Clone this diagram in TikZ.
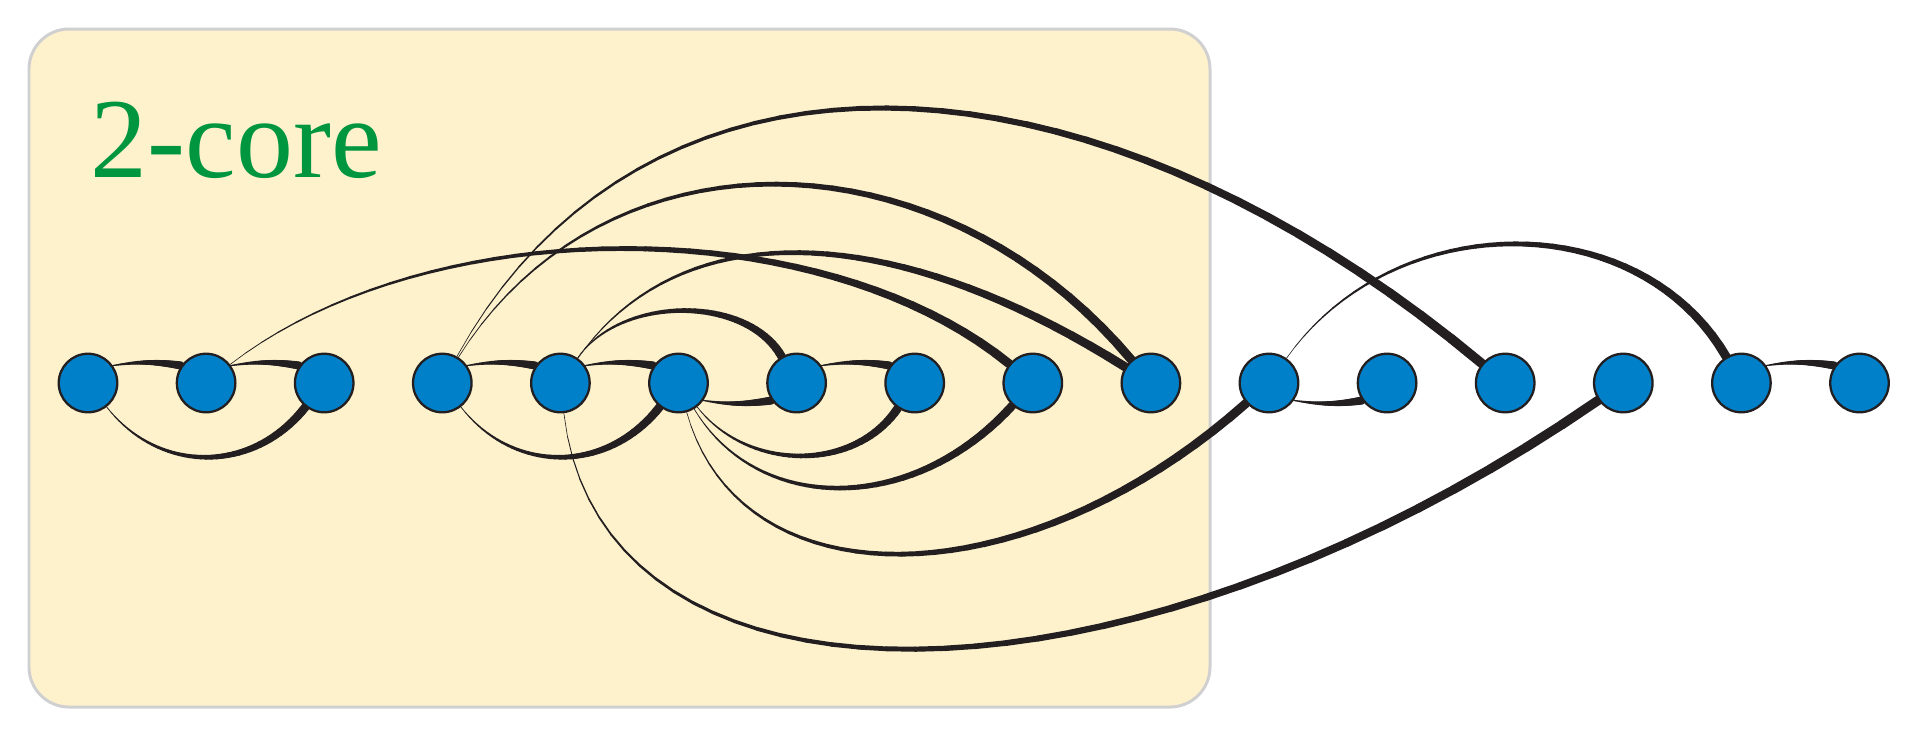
\documentclass[tikz,border=0pt]{standalone}
\usepackage{fontspec}
\setmainfont{Liberation Serif}
\usepackage{tikz}
\usetikzlibrary{backgrounds}
\definecolor{nodeblue}{RGB}{0,128,200}
\definecolor{linkblack}{RGB}{35,31,32}
\definecolor{corefill}{RGB}{254,242,205}
\definecolor{coreline}{RGB}{208,208,208}
\definecolor{coregreen}{RGB}{0,150,64}
\newcommand\taperedge[5]{%
  \path (#1) .. controls #3 .. (#2)
    \foreach \k in {0,...,40}{coordinate[pos=\k/40] (tp\k)};
  \foreach \k in {1,...,40}{%
    \pgfmathtruncatemacro\j{\k-1}%
    \pgfmathsetmacro\w{0.2845*(#4+(#5-#4)*\k/40)}%
    \draw[link, line width=\w pt] (tp\j) -- (tp\k);
  }%
}

\begin{document}
\begin{tikzpicture}[x=0.01cm,y=-0.01cm]
\tikzstyle{vertex} = [draw=linkblack, fill=nodeblue, circle, line width=0.65pt, minimum size=0.585cm, inner sep=0pt];
\tikzstyle{link} = [draw=linkblack, line cap=round];
\tikzstyle{corebox} = [draw=coreline, fill=corefill, line width=0.85pt, rounded corners=0.4cm];
\useasboundingbox (0,0) rectangle (1920,738);
\begin{scope}[on background layer]
\draw[corebox] (29,29) rectangle (1210,707);
\end{scope}
\node[anchor=base west, inner sep=0pt, text=coregreen, font=\fontsize{32.4}{36}\selectfont] (title) at (90,177) {2-core};
\foreach \i in {1,...,16}
  \node[vertex] (v\i) at ({88+118.1*(\i-1)},383) {};
\begin{scope}[on background layer]
\taperedge{v1.35}{v2.145}{(138,361.5) and (156,361.5)}{1}{8}
\taperedge{v2.35}{v3.145}{(256,361.5) and (274,361.5)}{1}{8}
\taperedge{v1}{v3}{(159,474) and (253,474)}{0.6}{8.5}
\taperedge{v4.35}{v5.145}{(492,361.5) and (510,361.5)}{1}{8}
\taperedge{v5.35}{v6.145}{(610,361.5) and (628,361.5)}{1}{8}
\taperedge{v4}{v6}{(513,474) and (607,474)}{0.6}{8.5}
\taperedge{v6.-35}{v7.-145}{(728,404.5) and (746,404.5)}{1}{8}
\taperedge{v7.35}{v8.145}{(847,361.5) and (865,361.5)}{1}{8}
\taperedge{v11.-35}{v12.-145}{(1320,404.5) and (1338,404.5)}{1}{8}
\taperedge{v15.35}{v16.145}{(1791,361.5) and (1809,361.5)}{1}{8}
\taperedge{v2}{v9}{(430,210) and (820,210)}{0.4}{9}
\taperedge{v4}{v13}{(640,24) and (1075,24)}{0.4}{9.5}
\taperedge{v4}{v10}{(603,126) and (935,126)}{0.4}{9}
\taperedge{v5}{v7}{(621,295) and (747,295)}{0.6}{8.5}
\taperedge{v5}{v10}{(678,216) and (884,216)}{0.4}{9}
\taperedge{v5}{v14}{(600,730) and (1120,730)}{0.4}{9.5}
\taperedge{v6}{v8}{(748,472) and (855,472)}{0.5}{8.5}
\taperedge{v6}{v9}{(758,515) and (913,515)}{0.5}{8.5}
\taperedge{v6}{v11}{(740,603) and (1020,603)}{0.4}{9}
\taperedge{v11}{v15}{(1394,206) and (1639,206)}{0.4}{9}
\end{scope}
\end{tikzpicture}
\end{document}
